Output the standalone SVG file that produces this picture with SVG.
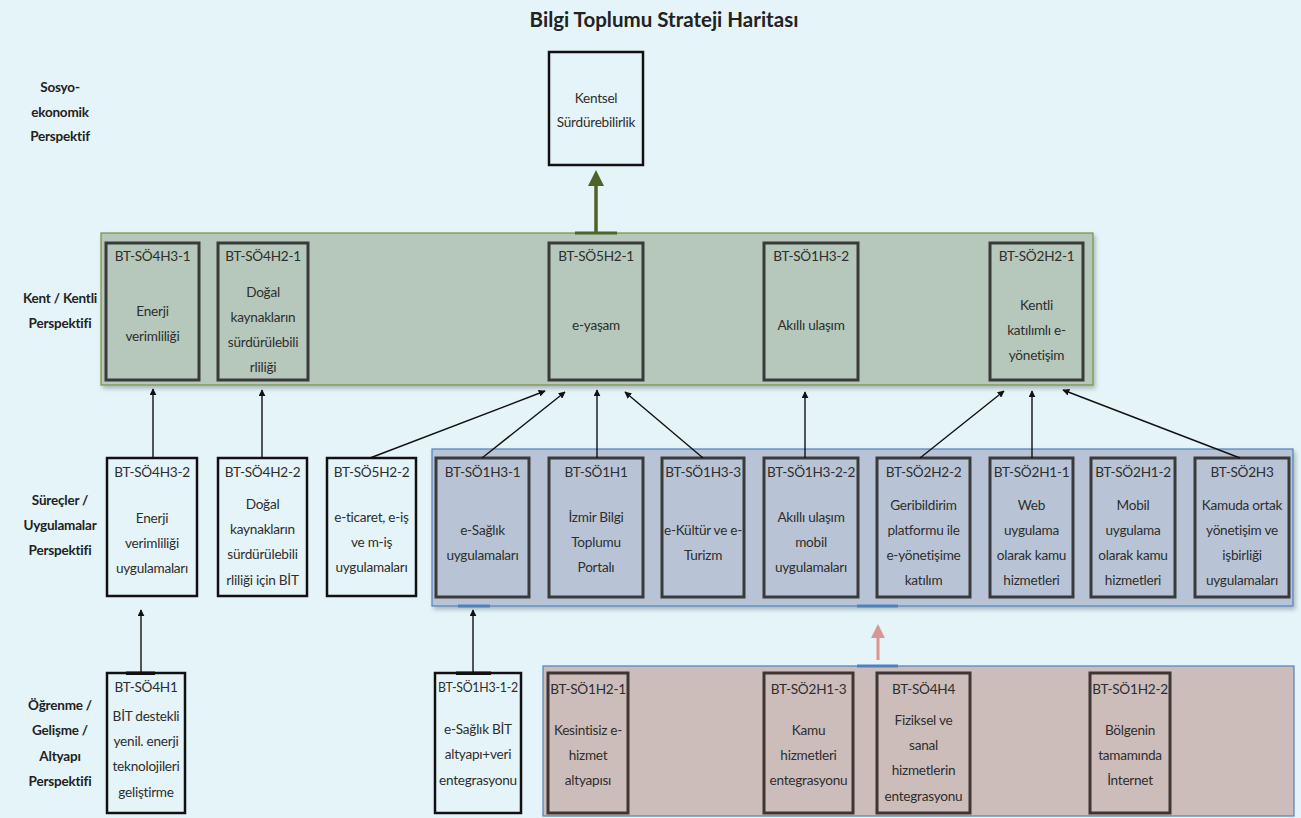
<svg xmlns="http://www.w3.org/2000/svg" width="1301" height="818" viewBox="0 0 1301 818">
<defs>
<style>
.t{font-family:Lato,"Open Sans","Liberation Sans",sans-serif;font-size:13.6px;letter-spacing:-0.25px;fill:#2e2e2e;text-anchor:middle}
.lbl{font-family:Lato,"Open Sans","Liberation Sans",sans-serif;font-size:13.5px;letter-spacing:-0.2px;font-weight:bold;fill:#222;text-anchor:middle}
.title{font-family:Lato,"Open Sans","Liberation Sans",sans-serif;font-size:20.5px;font-weight:bold;fill:#222;text-anchor:middle}
.bw{fill:#E5F4F8;stroke:#111;stroke-width:2.5}
.bg{fill:#B5C8BB;stroke:#3A3A3A;stroke-width:3}
.bb{fill:#B8C4D5;stroke:#3A3A3A;stroke-width:3}
.bp{fill:#CDBDBA;stroke:#3F3535;stroke-width:3}
.ar{stroke:#111;stroke-width:1.4;fill:none;marker-end:url(#ah)}
</style>
<marker id="ah" viewBox="0 0 10 10" refX="9" refY="5" markerWidth="7" markerHeight="7" orient="auto" markerUnits="userSpaceOnUse">
<path d="M0,0 L10,5 L0,10 z" fill="#111"/>
</marker>
<filter id="sh" x="-5%" y="-10%" width="110%" height="130%">
<feDropShadow dx="2" dy="3" stdDeviation="2" flood-color="#000" flood-opacity="0.25"/>
</filter>
</defs>
<rect width="1301" height="818" fill="#E5F4F8"/>
<text class="title" x="664" y="27">Bilgi Toplumu Strateji Haritası</text>

<g id="labels">
<text class="lbl" x="60" y="92">Sosyo-</text>
<text class="lbl" x="60" y="117">ekonomik</text>
<text class="lbl" x="60" y="141">Perspektif</text>
<text class="lbl" x="60" y="303">Kent / Kentli</text>
<text class="lbl" x="60" y="328">Perspektifi</text>
<text class="lbl" x="60" y="505">Süreçler /</text>
<text class="lbl" x="60" y="530">Uygulamalar</text>
<text class="lbl" x="60" y="555">Perspektifi</text>
<text class="lbl" x="60" y="710">Öğrenme /</text>
<text class="lbl" x="60" y="735">Gelişme /</text>
<text class="lbl" x="60" y="761">Altyapı</text>
<text class="lbl" x="60" y="786">Perspektifi</text>
</g>

<g id="bands">
<rect x="101" y="233" width="992" height="152" fill="#B5C8BB" stroke="#76923C" stroke-width="1.2" filter="url(#sh)"/>
<rect x="432" y="449" width="861" height="157" fill="#B8C4D5" stroke="#4F81BD" stroke-width="1.2" filter="url(#sh)"/>
<rect x="543" y="666" width="751" height="150" fill="#CDBDBA" stroke="#4F81BD" stroke-width="1.2"/>
<rect x="458" y="604.5" width="32" height="3" fill="#4F81BD"/>
<rect x="857" y="604.5" width="41" height="3" fill="#4F81BD"/>
<rect x="857" y="664.5" width="41" height="3" fill="#4F81BD"/>
</g>

<g id="n-kentsel"><rect class="bw" x="549" y="52" width="94" height="113"/>
<text class="t" x="596" y="103">Kentsel</text><text class="t" x="596" y="127">Sürdürebilirlik</text></g>

<g id="n-so4h3-1"><rect class="bg" x="106" y="243" width="93" height="137"/>
<text class="t" x="152.5" y="261">BT-SÖ4H3-1</text><text class="t" x="152.5" y="316">Enerji</text><text class="t" x="152.5" y="341">verimliliği</text></g>
<g id="n-so4h2-1"><rect class="bg" x="218" y="243" width="90" height="137"/>
<text class="t" x="263" y="261">BT-SÖ4H2-1</text><text class="t" x="263" y="297">Doğal</text><text class="t" x="263" y="322">kaynakların</text><text class="t" x="263" y="347">sürdürülebili</text><text class="t" x="263" y="372">rliliği</text></g>
<g id="n-so5h2-1"><rect class="bg" x="549" y="243" width="94" height="137"/>
<text class="t" x="596" y="261">BT-SÖ5H2-1</text><text class="t" x="596" y="330">e-yaşam</text></g>
<g id="n-so1h3-2"><rect class="bg" x="764" y="243" width="94" height="137"/>
<text class="t" x="811" y="261">BT-SÖ1H3-2</text><text class="t" x="811" y="330">Akıllı ulaşım</text></g>
<g id="n-so2h2-1"><rect class="bg" x="990" y="243" width="93" height="137"/>
<text class="t" x="1036.5" y="261">BT-SÖ2H2-1</text><text class="t" x="1036.5" y="310">Kentli</text><text class="t" x="1036.5" y="335">katılımlı e-</text><text class="t" x="1036.5" y="360">yönetişim</text></g>

<g id="n-so4h3-2"><rect class="bw" x="107" y="458" width="90" height="138"/>
<text class="t" x="152" y="477">BT-SÖ4H3-2</text><text class="t" x="152" y="523">Enerji</text><text class="t" x="152" y="548">verimliliği</text><text class="t" x="152" y="573">uygulamaları</text></g>
<g id="n-so4h2-2"><rect class="bw" x="218" y="458" width="89" height="138"/>
<text class="t" x="262.5" y="477">BT-SÖ4H2-2</text><text class="t" x="262.5" y="509">Doğal</text><text class="t" x="262.5" y="534">kaynakların</text><text class="t" x="262.5" y="559">sürdürülebili</text><text class="t" x="262.5" y="585">rliliği için BİT</text></g>
<g id="n-so5h2-2"><rect class="bw" x="327" y="458" width="89" height="138"/>
<text class="t" x="371.5" y="477">BT-SÖ5H2-2</text><text class="t" x="371.5" y="522">e-ticaret, e-iş</text><text class="t" x="371.5" y="547">ve m-iş</text><text class="t" x="371.5" y="572">uygulamaları</text></g>

<g id="n-so1h3-1"><rect class="bb" x="436" y="458" width="93" height="139"/>
<text class="t" x="482.5" y="477">BT-SÖ1H3-1</text><text class="t" x="482.5" y="535">e-Sağlık</text><text class="t" x="482.5" y="560">uygulamaları</text></g>
<g id="n-so1h1"><rect class="bb" x="549" y="458" width="94" height="139"/>
<text class="t" x="596" y="477">BT-SÖ1H1</text><text class="t" x="596" y="522">İzmir Bilgi</text><text class="t" x="596" y="547">Toplumu</text><text class="t" x="596" y="572">Portalı</text></g>
<g id="n-so1h3-3"><rect class="bb" x="662" y="458" width="82" height="139"/>
<text class="t" x="703" y="477">BT-SÖ1H3-3</text><text class="t" x="703" y="535" textLength="78" lengthAdjust="spacingAndGlyphs">e-Kültür ve e-</text><text class="t" x="703" y="560">Turizm</text></g>
<g id="n-so1h3-2-2"><rect class="bb" x="764" y="458" width="94" height="139"/>
<text class="t" x="811" y="477">BT-SÖ1H3-2-2</text><text class="t" x="811" y="522">Akıllı ulaşım</text><text class="t" x="811" y="547">mobil</text><text class="t" x="811" y="572">uygulamaları</text></g>
<g id="n-so2h2-2"><rect class="bb" x="877" y="458" width="93" height="139"/>
<text class="t" x="923.5" y="477">BT-SÖ2H2-2</text><text class="t" x="923.5" y="510">Geribildirim</text><text class="t" x="923.5" y="535">platformu ile</text><text class="t" x="923.5" y="560">e-yönetişime</text><text class="t" x="923.5" y="585">katılım</text></g>
<g id="n-so2h1-1"><rect class="bb" x="990" y="458" width="83" height="139"/>
<text class="t" x="1031.5" y="477">BT-SÖ2H1-1</text><text class="t" x="1031.5" y="510">Web</text><text class="t" x="1031.5" y="535">uygulama</text><text class="t" x="1031.5" y="560">olarak kamu</text><text class="t" x="1031.5" y="585">hizmetleri</text></g>
<g id="n-so2h1-2"><rect class="bb" x="1091" y="458" width="84" height="139"/>
<text class="t" x="1133" y="477">BT-SÖ2H1-2</text><text class="t" x="1133" y="510">Mobil</text><text class="t" x="1133" y="535">uygulama</text><text class="t" x="1133" y="560">olarak kamu</text><text class="t" x="1133" y="585">hizmetleri</text></g>
<g id="n-so2h3"><rect class="bb" x="1195" y="458" width="94" height="139"/>
<text class="t" x="1242" y="477">BT-SÖ2H3</text><text class="t" x="1242" y="510">Kamuda ortak</text><text class="t" x="1242" y="535">yönetişim ve</text><text class="t" x="1242" y="560">işbirliği</text><text class="t" x="1242" y="585">uygulamaları</text></g>

<g id="n-so4h1"><rect class="bw" x="107" y="673" width="78" height="140" stroke-width="2"/>
<rect x="126" y="671.5" width="29" height="3.5" fill="#111"/>
<text class="t" x="146" y="692">BT-SÖ4H1</text><text class="t" x="146" y="721">BİT destekli</text><text class="t" x="146" y="746">yenil. enerji</text><text class="t" x="146" y="771">teknolojileri</text><text class="t" x="146" y="797">geliştirme</text></g>
<g id="n-so1h3-1-2"><rect class="bw" x="435" y="673" width="86" height="140" stroke-width="2"/>
<rect x="456" y="671.5" width="35" height="3.5" fill="#111"/>
<text class="t" x="478" y="692" textLength="80" lengthAdjust="spacingAndGlyphs">BT-SÖ1H3-1-2</text><text class="t" x="478" y="734">e-Sağlık BİT</text><text class="t" x="478" y="759">altyapı+veri</text><text class="t" x="478" y="785">entegrasyonu</text></g>

<g id="n-so1h2-1"><rect class="bp" x="548" y="673" width="80" height="140"/>
<text class="t" x="588" y="694">BT-SÖ1H2-1</text><text class="t" x="588" y="735">Kesintisiz e-</text><text class="t" x="588" y="760">hizmet</text><text class="t" x="588" y="785">altyapısı</text></g>
<g id="n-so2h1-3"><rect class="bp" x="764" y="673" width="89" height="140"/>
<text class="t" x="808.5" y="694">BT-SÖ2H1-3</text><text class="t" x="808.5" y="735">Kamu</text><text class="t" x="808.5" y="760">hizmetleri</text><text class="t" x="808.5" y="785">entegrasyonu</text></g>
<g id="n-so4h4"><rect class="bp" x="877" y="673" width="93" height="140"/>
<text class="t" x="923.5" y="694">BT-SÖ4H4</text><text class="t" x="923.5" y="725">Fiziksel ve</text><text class="t" x="923.5" y="750">sanal</text><text class="t" x="923.5" y="775">hizmetlerin</text><text class="t" x="923.5" y="801">entegrasyonu</text></g>
<g id="n-so1h2-2"><rect class="bp" x="1090" y="673" width="80" height="140"/>
<text class="t" x="1130" y="694">BT-SÖ1H2-2</text><text class="t" x="1130" y="735">Bölgenin</text><text class="t" x="1130" y="760">tamamında</text><text class="t" x="1130" y="785">İnternet</text></g>

<g id="connectors">
<rect x="575" y="231.5" width="42" height="3" fill="#4F6228"/>
<line x1="596" y1="232" x2="596" y2="182" stroke="#4F6228" stroke-width="3.5"/>
<polygon points="596,170 588,186 604,186" fill="#4F6228"/>
<line x1="878" y1="660" x2="878" y2="636" stroke="#D99694" stroke-width="3"/>
<polygon points="878,624 871,638 885,638" fill="#D99694"/>
<line class="ar" x1="153" y1="458" x2="153" y2="389"/>
<line class="ar" x1="262" y1="458" x2="262" y2="390"/>
<line class="ar" x1="370" y1="458" x2="545" y2="391"/>
<line class="ar" x1="482" y1="458" x2="565" y2="392"/>
<line class="ar" x1="597" y1="458" x2="597" y2="390"/>
<line class="ar" x1="703" y1="458" x2="625" y2="392"/>
<line class="ar" x1="805" y1="458" x2="805" y2="392"/>
<line class="ar" x1="920" y1="458" x2="1004" y2="391"/>
<line class="ar" x1="1032" y1="458" x2="1032" y2="391"/>
<line class="ar" x1="1240" y1="458" x2="1063" y2="390"/>
<line class="ar" x1="141" y1="672" x2="141" y2="610"/>
<line class="ar" x1="473" y1="672" x2="473" y2="610"/>
</g>
</svg>
